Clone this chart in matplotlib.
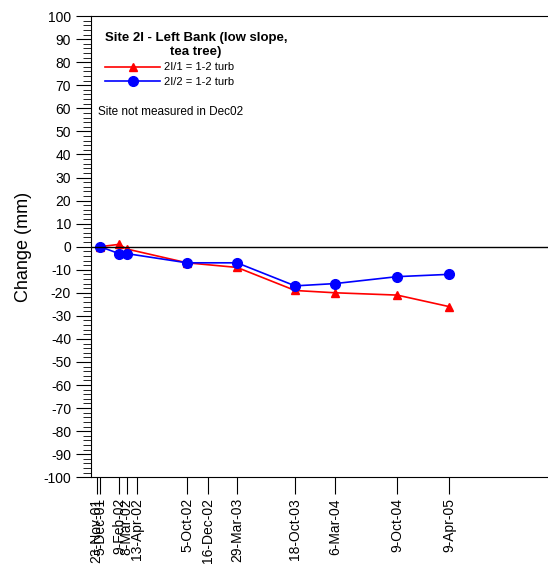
import matplotlib
matplotlib.use("Agg")
import matplotlib.pyplot as plt
import numpy as np
import pandas as pd

plt.rcParams["font.family"] = ["Liberation Sans", "DejaVu Sans"]
plt.rcParams["axes.unicode_minus"] = False

# survey dates shown on the x axis
tick_dates = ["2001-11-23", "2001-12-05", "2002-02-09", "2002-03-08", "2002-04-13",
              "2002-10-05", "2002-12-16", "2003-03-29", "2003-10-18", "2004-03-06",
              "2004-10-09", "2005-04-09"]
tick_labels = ["23-Nov-01", "5-Dec-01", "9-Feb-02", "8-Mar-02", "13-Apr-02",
               "5-Oct-02", "16-Dec-02", "29-Mar-03", "18-Oct-03", "6-Mar-04",
               "9-Oct-04", "9-Apr-05"]

# measured dates and change values (mm)
meas_dates = ["2001-12-05", "2002-02-09", "2002-03-08", "2002-10-05", "2003-03-29",
              "2003-10-18", "2004-03-06", "2004-10-09", "2005-04-09"]
site_2i1 = [0, 1, -1, -7, -9, -19, -20, -21, -26]
site_2i2 = [0, -3, -3, -7, -7, -17, -16, -13, -12]

x_meas = pd.to_datetime(meas_dates)
x_ticks = pd.to_datetime(tick_dates)

fig = plt.figure(figsize=(5.48, 5.75), dpi=100)
ax = fig.add_axes([0.166, 0.170, 0.84, 0.802])

ax.plot(x_meas, site_2i1, color="red", marker="^", markersize=6, lw=1.2, label="2I/1 = 1-2 turb")
ax.plot(x_meas, site_2i2, color="blue", marker="o", markersize=7, lw=1.2, label="2I/2 = 1-2 turb")
ax.axhline(0, color="black", lw=1)

ax.set_ylim(-100, 100)
ax.set_yticks(np.arange(-100, 101, 10))
ax.set_yticks(np.arange(-100, 101, 2), minor=True)
ax.tick_params(axis="y", which="major", direction="out", length=10.8, labelsize=10, pad=3.5)
ax.tick_params(axis="y", which="minor", direction="out", length=5.8)

ax.set_xlim(pd.Timestamp("2001-11-03"), pd.Timestamp("2006-04-01"))
ax.set_xticks(x_ticks)
ax.set_xticks([], minor=True)
ax.set_xticklabels(tick_labels, rotation=90, fontsize=10)
ax.tick_params(axis="x", direction="out", length=12, pad=3)

ax.spines["right"].set_visible(False)
ax.set_ylabel("Change (mm)", fontsize=13, labelpad=8)

leg = ax.legend(loc="upper left", bbox_to_anchor=(0.013, 0.982), frameon=False, fontsize=8,
                title="Site 2I - Left Bank (low slope,\ntea tree)",
                title_fontproperties={"weight": "bold", "size": 9.5},
                alignment="left",
                handlelength=5.0, handletextpad=0.3, borderaxespad=0.3, labelspacing=0.4)
leg.get_title().set_multialignment("center")
ax.text(0.015, 0.792, "Site not measured in Dec02", transform=ax.transAxes, fontsize=8.5, va="center")

fig.savefig("out.png", dpi=100)
